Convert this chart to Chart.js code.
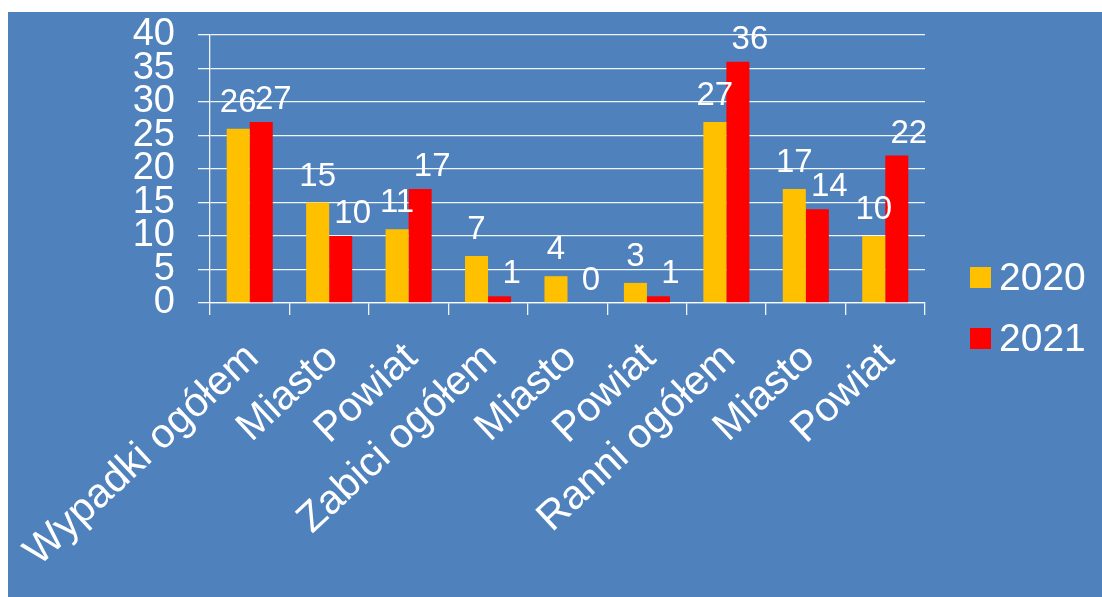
<!DOCTYPE html>
<html>
<head>
<meta charset="utf-8">
<script src="https://cdn.jsdelivr.net/npm/chart.js@4/dist/chart.umd.min.js"></script>
<style>
  html, body { margin: 0; padding: 0; background: #ffffff; width: 1102px; height: 597px; overflow: hidden; }
  #box { position: absolute; left: 8px; top: 12px; width: 1094px; height: 585px; background: #4F81BD; }
  canvas { display: block; }
</style>
</head>
<body>
<div id="box"><canvas id="c" width="1094" height="585"></canvas></div>
<script>
const categories = ['Wypadki ogółem', 'Miasto', 'Powiat', 'Zabici ogółem', 'Miasto', 'Powiat', 'Ranni ogółem', 'Miasto', 'Powiat'];
const series2020 = [26, 15, 11, 7, 4, 3, 27, 17, 10];
const series2021 = [27, 10, 17, 1, 0, 1, 36, 14, 22];
const seriesNames = ['2020', '2021'];
const yTickValues = [0, 5, 10, 15, 20, 25, 30, 35, 40];

const FONT = '"Liberation Sans", Arial, sans-serif';
const GRID = 'rgba(255,255,255,0.92)';

const dataLabelPlugin = {
  id: 'dataLabels',
  afterDatasetsDraw(chart) {
    const ctx = chart.ctx;
    ctx.save();
    ctx.font = '33px ' + FONT;
    ctx.fillStyle = '#ffffff';
    ctx.textAlign = 'center';
    ctx.textBaseline = 'alphabetic';
    const shift = [{dx: 0, dy: 17}, {dx: 12, dy: 13}];
    chart.data.datasets.forEach((ds, i) => {
      const meta = chart.getDatasetMeta(i);
      meta.data.forEach((bar, j) => {
        ctx.fillText(String(ds.data[j]), bar.x + shift[i].dx, bar.y - shift[i].dy);
      });
    });
    ctx.restore();
  }
};

const legendPlugin = {
  id: 'sideLegend',
  afterDraw(chart) {
    const ctx = chart.ctx;
    ctx.save();
    ctx.font = '39px ' + FONT;
    ctx.textAlign = 'left';
    ctx.textBaseline = 'middle';
    chart.data.datasets.forEach((ds, i) => {
      const top = 255 + i * 61;
      ctx.fillStyle = ds.backgroundColor;
      ctx.fillRect(962, top, 21, 21);
      ctx.fillStyle = '#ffffff';
      ctx.fillText(ds.label, 991, top + 12);
    });
    ctx.restore();
  }
};

new Chart(document.getElementById('c'), {
  type: 'bar',
  data: {
    labels: categories,
    datasets: [
      { label: seriesNames[0], data: series2020, backgroundColor: '#FFC000', borderWidth: 0 },
      { label: seriesNames[1], data: series2021, backgroundColor: '#FF0000', borderWidth: 0 }
    ]
  },
  options: {
    responsive: false,
    animation: false,
    events: [],
    layout: { padding: { top: 23, right: 177, left: 0, bottom: 0 } },
    datasets: { bar: { categoryPercentage: 0.58, barPercentage: 1.0 } },
    plugins: { legend: { display: false }, tooltip: { enabled: false } },
    scales: {
      x: {
        offset: true,
        afterFit(s) { s.height = 294; s.paddingLeft = 0; s.paddingRight = 0; },
        grid: { display: true, drawOnChartArea: false, drawTicks: true, tickLength: 12, color: GRID, lineWidth: 1.3, offset: true },
        border: { display: true, color: GRID, width: 1.3 },
        ticks: {
          autoSkip: false, maxRotation: 43, minRotation: 43,
          color: '#ffffff', font: { family: FONT, size: 41 }, padding: 19, labelOffset: 3
        }
      },
      y: {
        min: 0, max: 40,
        afterFit(s) { s.width = 202; s.paddingTop = 0; s.paddingBottom = 0; },
        afterBuildTicks(s) { s.ticks = yTickValues.map(v => ({ value: v })); },
        grid: { color: GRID, lineWidth: 1.3, tickLength: 12, drawTicks: true },
        border: { display: true, color: GRID, width: 1.3 },
        ticks: { autoSkip: false, color: '#ffffff', font: { family: FONT, size: 38 }, padding: 23 }
      }
    }
  },
  plugins: [dataLabelPlugin, legendPlugin]
});
</script>
</body>
</html>
